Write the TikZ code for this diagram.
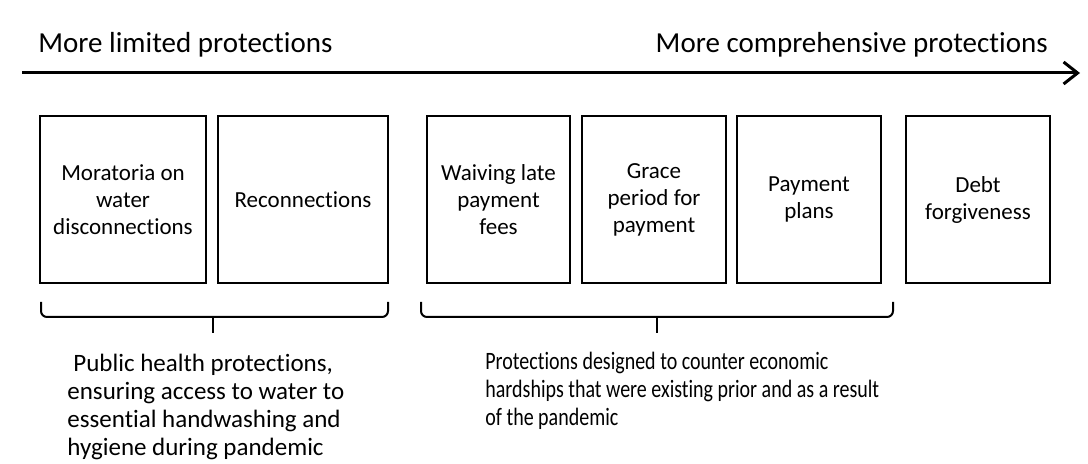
\documentclass[tikz,border=0pt]{standalone}
\usepackage{fontspec}
\setmainfont{Carlito}[Ligatures=NoCommon]
\newfontfamily\narrowfont{Carlito}[FakeStretch=0.8,Ligatures=NoCommon]
\usetikzlibrary{arrows.meta}

\begin{document}
\begin{tikzpicture}[x=0.5pt,y=-0.5pt,
    box/.style={draw,line width=1pt,minimum height=83.5pt,inner sep=2pt,
      align=center,font=\fontsize{11.5}{13.5}\selectfont},
    label/.style={inner sep=0pt,font=\fontsize{14.5}{17}\selectfont},
    note/.style={inner sep=0pt,align=left,anchor=north west},
    bracket/.style={line width=1pt,rounded corners=3pt}]
  \useasboundingbox (0,0) rectangle (1088,464);
  \node[label,anchor=base west] (limited) at (38,53) {More limited protections};
  \node[label,anchor=base east] (compre) at (1048,53) {More comprehensive protections};
  \coordinate (from) at (22,73);
  \coordinate (to) at (1080,73);
  \draw[line width=1.5pt,-{Straight Barb[length=7pt,width=11pt]}] (from) -- (to);

  \node[box,minimum width=83pt] (moratoria) at (123,199.5) {Moratoria on\\water\\disconnections};
  \node[box,minimum width=85pt] (reconn) at (303,199.5) {Reconnections};
  \node[box,minimum width=71.5pt] (waive) at (498.5,199.5) {Waiving late\\payment\\fees};
  \node[box,minimum width=72pt] (grace) at (654,199.5) {Grace\\period for\\payment};
  \node[box,minimum width=72pt] (plans) at (809,199.5) {Payment\\plans};
  \node[box,minimum width=72pt] (debt) at (978,199.5) {Debt\\forgiveness};

  \draw[bracket] (41,302) -- (41,317) -- (388,317) -- (388,302);
  \draw[line width=1pt] (213,317) -- (213,333);
  \draw[bracket] (421,302) -- (421,317) -- (893,317) -- (893,302);
  \draw[line width=1pt] (657,317) -- (657,333);

  \node[note,font=\fontsize{12.5}{14}\selectfont] (health) at (67,354)
    {\hspace{3pt}Public health protections,\\ensuring access to water to\\essential handwashing and\\hygiene during pandemic};
  \node[note,font=\narrowfont\fontsize{12.5}{14}\selectfont] (econ) at (485,352)
    {Protections designed to counter economic\\hardships that were existing prior and as a result\\of the pandemic};
\end{tikzpicture}
\end{document}
